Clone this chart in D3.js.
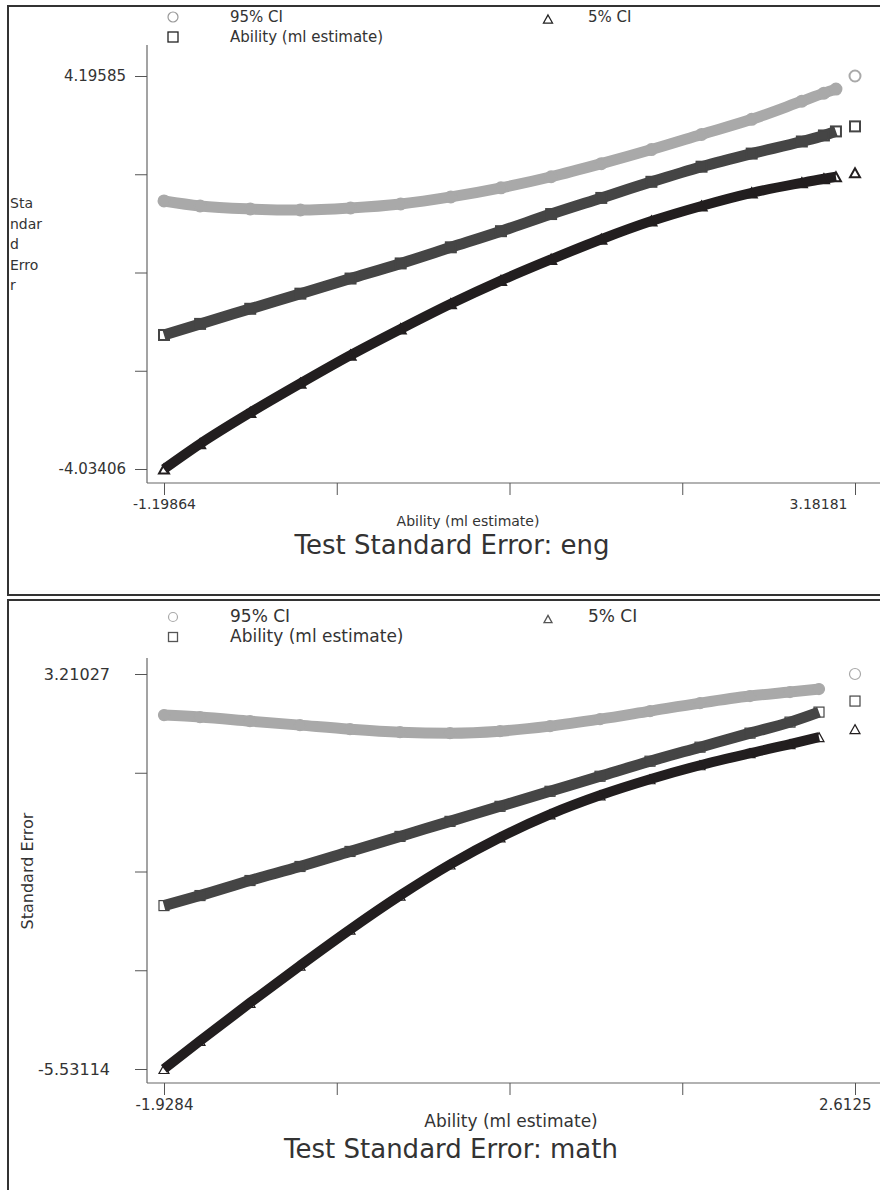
<!DOCTYPE html>
<html>
<head>
<meta charset="utf-8">
<script src="https://cdn.jsdelivr.net/npm/d3@7"></script>
<style>
  body { margin: 0; background: #fff; }
  text { font-family: "DejaVu Sans", "Open Sans", sans-serif; fill: #333; }
</style>
</head>
<body>
<div id="chart"></div>
<script>
// values (ability on x, standard error curves on y)
var engAbility  = [-1.19864, -0.9698, -0.6519, -0.3340, -0.0161, 0.3018, 0.6197, 0.9376, 1.2555, 1.5734, 1.8912, 2.2091, 2.5270, 2.8449, 2.9848, 3.0611, 3.18181];
var engCI95     = [1.5791, 1.4736, 1.4103, 1.3892, 1.4314, 1.5158, 1.6635, 1.8534, 2.0856, 2.3599, 2.6553, 2.9719, 3.2884, 3.6683, 3.8371, 3.9215, 4.19585];
var engEstimate = [-1.2275, -0.9954, -0.6788, -0.3623, -0.0458, 0.2708, 0.6084, 0.9461, 1.3048, 1.6425, 1.9801, 2.2966, 2.5710, 2.8242, 2.9508, 3.0352, 3.1407];
var engCI5      = [-4.03406, -3.5065, -2.8524, -2.2404, -1.6495, -1.1008, -0.5733, -0.0879, 0.3552, 0.7773, 1.1571, 1.4736, 1.7480, 1.9590, 2.0434, 2.0856, 2.1700];

var mathAbility  = [-1.9284, -1.6918, -1.3633, -1.0347, -0.7061, -0.3775, -0.0490, 0.2796, 0.6082, 0.9368, 1.2653, 1.5939, 1.9225, 2.1854, 2.3759, 2.6125];
var mathCI95     = [2.3007, 2.2563, 2.1675, 2.0787, 1.9900, 1.9234, 1.9013, 1.9457, 2.0566, 2.2119, 2.3894, 2.5669, 2.7222, 2.8109, 2.8775, 3.21027];
var mathEstimate = [-1.9148, -1.6929, -1.3601, -1.0495, -0.7167, -0.3839, -0.0511, 0.2817, 0.6145, 0.9473, 1.2801, 1.5907, 1.9013, 2.1453, 2.3672, 2.6113];
var mathCI5      = [-5.53114, -4.9099, -4.0668, -3.2459, -2.4472, -1.6929, -1.0051, -0.4061, 0.1042, 0.5257, 0.8807, 1.1913, 1.4576, 1.6572, 1.8126, 1.9900];

var engXTicks  = ["-1.19864", "3.18181"];
var engYTicks  = ["-4.03406", "4.19585"];
var mathXTicks = ["-1.9284", "2.6125"];
var mathYTicks = ["-5.53114", "3.21027"];

var seriesNames = ["95% CI", "5% CI", "Ability (ml estimate)"];

var svg = d3.select("#chart").append("svg")
	.attr("width", 880)
	.attr("height", 1190);

function marker(g, shape, x, y, s, color, sw) {
	if (shape === "circle") {
		g.append("circle").attr("cx", x).attr("cy", y).attr("r", s / 2)
			.style("fill", "none").style("stroke", color).style("stroke-width", sw);
	} else if (shape === "square") {
		g.append("rect").attr("x", x - s / 2).attr("y", y - s / 2).attr("width", s).attr("height", s)
			.style("fill", "none").style("stroke", color).style("stroke-width", sw);
	} else {
		var h = s * 0.9;
		g.append("path")
			.attr("d", "M" + x + "," + (y - h / 2) + "L" + (x + s / 2) + "," + (y + h / 2) + "L" + (x - s / 2) + "," + (y + h / 2) + "Z")
			.style("fill", "none").style("stroke", color).style("stroke-width", sw);
	}
}

function drawPanel(p) {
	var g = svg.append("g");

	// panel frame
	g.append("rect")
		.attr("x", 8).attr("y", p.top).attr("width", 900).attr("height", p.frameH)
		.style("fill", "none").style("stroke", "#333").style("stroke-width", 2);

	// legend
	var lg = p.legend;
	marker(g, "circle", 173, p.top + lg.y1, lg.size, lg.circle, 1.2);
	marker(g, "triangle", 548, p.top + lg.y1 + 2, lg.size - 1, lg.tri, 1.3);
	marker(g, "square", 173, p.top + lg.y2, lg.size, lg.sq, 1.3);
	g.append("text").attr("x", 230).attr("y", p.top + lg.y1 + 5).style("font-size", lg.font + "px").text(seriesNames[0]);
	g.append("text").attr("x", 588).attr("y", p.top + lg.y1 + 5).style("font-size", lg.font + "px").text(seriesNames[1]);
	g.append("text").attr("x", 230).attr("y", p.top + lg.y2 + 5).style("font-size", lg.font + "px").text(seriesNames[2]);

	var x = d3.scaleLinear().domain([p.ability[0], p.ability[p.ability.length - 1]]).range([164, 855]);
	var yMin = +p.yTicks[0], yMax = +p.yTicks[1];
	var y = d3.scaleLinear().domain([yMin, yMax]).range([p.yBottom, p.yTop]);

	var xMin = +p.xTicks[0], xMax = +p.xTicks[1];
	var xTickVals = d3.range(5).map(function (i) { return xMin + i * (xMax - xMin) / 4; });
	var yTickVals = d3.range(5).map(function (i) { return yMin + i * (yMax - yMin) / 4; });

	// axes lines
	g.append("line").attr("x1", 147).attr("x2", 147).attr("y1", p.axisTop).attr("y2", p.xAxisY)
		.style("stroke", "#666").style("stroke-width", 1.2);
	g.append("line").attr("x1", 147).attr("x2", 880).attr("y1", p.xAxisY).attr("y2", p.xAxisY)
		.style("stroke", "#666").style("stroke-width", 1.2);

	var yAxis = d3.axisLeft(y).tickValues(yTickVals).tickSize(12).tickPadding(p.yPad)
		.tickFormat(function (d, i) { return i === 0 ? p.yTicks[0] : (i === 4 ? p.yTicks[1] : ""); });
	var ya = g.append("g").attr("transform", "translate(147,0)").call(yAxis);
	ya.select(".domain").remove();
	ya.selectAll("line").style("stroke", "#555");
	ya.selectAll("text").style("font-size", p.yTickFont + "px").style("font-family", null).style("fill", "#333");

	var xAxis = d3.axisBottom(x).tickValues(xTickVals).tickSize(12).tickPadding(4)
		.tickFormat(function (d, i) { return i === 0 ? p.xTicks[0] : (i === 4 ? p.xTicks[1] : ""); });
	var xa = g.append("g").attr("transform", "translate(0," + p.xAxisY + ")").call(xAxis);
	xa.select(".domain").remove();
	xa.selectAll("line").style("stroke", "#555");
	xa.selectAll("text").style("font-size", p.xTickFont + "px").style("font-family", null).style("fill", "#333");
	xa.selectAll(".tick").filter(function (d, i) { return i === 4; }).select("text")
		.attr("text-anchor", "end").attr("x", p.lastTickDx);

	// series: dense band drawn as a thick line, then the markers
	var series = [
		{ vals: p.ci95, color: "#a9a9a9", shape: "circle", w: 11, cap: "round", size: 11 },
		{ vals: p.est, color: "#454545", shape: "square", w: 11, cap: "butt", size: 10 },
		{ vals: p.ci5, color: "#221e1f", shape: "triangle", w: 10, cap: "butt", size: 10 }
	];
	series.forEach(function (s) {
		var pts = p.ability.map(function (a, i) { return [a, s.vals[i]]; });
		var line = d3.line()
			.x(function (d) { return x(d[0]); })
			.y(function (d) { return y(d[1]); })
			.curve(d3.curveMonotoneX);
		g.append("path")
			.datum(pts.slice(0, pts.length - 1))
			.attr("d", line)
			.style("fill", "none")
			.style("stroke", s.color)
			.style("stroke-width", s.w)
			.style("stroke-linecap", s.cap);
		pts.forEach(function (d) {
			marker(g, s.shape, x(d[0]), y(d[1]), s.size, s.color, p.markerW);
		});
	});

	// y axis title
	if (p.yTitleLines) {
		p.yTitleLines.forEach(function (t, i) {
			g.append("text").attr("x", 10).attr("y", p.yTitleY + i * 20.5)
				.style("font-size", "14px").text(t);
		});
	} else {
		g.append("text")
			.attr("transform", "translate(33," + p.yTitleY + ") rotate(-90)")
			.attr("text-anchor", "middle")
			.style("font-size", "16px")
			.text("Standard Error");
	}

	g.append("text").attr("x", p.xLabelX).attr("y", p.xLabelY).attr("text-anchor", "middle")
		.style("font-size", p.xLabelFont + "px").text("Ability (ml estimate)");
	g.append("text").attr("x", p.titleX).attr("y", p.titleY).attr("text-anchor", "middle")
		.style("font-size", "26px").text(p.title);
}

drawPanel({
	top: 6, frameH: 589,
	legend: { y1: 11, y2: 31, size: 10, font: 15, circle: "#999", sq: "#222", tri: "#222" },
	ability: engAbility, ci95: engCI95, est: engEstimate, ci5: engCI5,
	xTicks: engXTicks, yTicks: engYTicks,
	yTop: 76, yBottom: 469, axisTop: 45, xAxisY: 483,
	yPad: 9, yTickFont: 15, xTickFont: 14, lastTickDx: -8, markerW: 2,
	yTitleLines: ["Sta", "ndar", "d", "Erro", "r"], yTitleY: 208,
	xLabelX: 468, xLabelY: 526, xLabelFont: 14,
	titleX: 452, titleY: 554, title: "Test Standard Error: eng"
});

drawPanel({
	top: 600, frameH: 700,
	legend: { y1: 17, y2: 37, size: 9, font: 17, circle: "#aaa", sq: "#555", tri: "#555" },
	ability: mathAbility, ci95: mathCI95, est: mathEstimate, ci5: mathCI5,
	xTicks: mathXTicks, yTicks: mathYTicks,
	yTop: 674, yBottom: 1069, axisTop: 658, xAxisY: 1083,
	yPad: 25, yTickFont: 16, xTickFont: 15, lastTickDx: 16, markerW: 1.2,
	yTitleLines: null, yTitleY: 871,
	xLabelX: 511, xLabelY: 1127, xLabelFont: 17,
	titleX: 451, titleY: 1158, title: "Test Standard Error: math"
});
</script>
</body>
</html>
